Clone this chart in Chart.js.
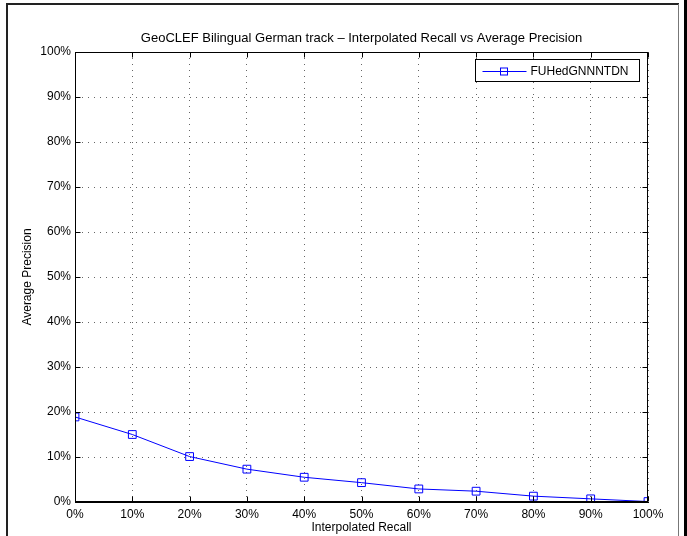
<!DOCTYPE html>
<html>
<head>
<meta charset="utf-8">
<script src="https://cdn.jsdelivr.net/npm/chart.js@4.4.1/dist/chart.umd.min.js"></script>
<style>
  html, body { margin: 0; padding: 0; background: #fff; }
  #wrap { width: 687px; height: 536px; }
</style>
</head>
<body>
<div id="wrap"><canvas id="chart" width="687" height="536"></canvas></div>
<script>
// interpolated recall levels (%) and the run's average precision at each one
const recallLevels = [0, 10, 20, 30, 40, 50, 60, 70, 80, 90, 100];
const precision = [18.9, 15.0, 10.1, 7.3, 5.5, 4.3, 2.9, 2.4, 1.3, 0.7, 0.1];
const runName = 'FUHedGNNNTDN';
const chartTitle = 'GeoCLEF Bilingual German track \u2013 Interpolated Recall vs Average Precision';
const xTitle = 'Interpolated Recall';
const yTitle = 'Average Precision';

const FONT = '"Liberation Sans", Arial, Helvetica, sans-serif';
const BLUE = '#0000ff';

// matlab-ish frame: box on all four sides, inward ticks, title, legend, page edge
const matlabFrame = {
  id: 'matlabFrame',
  afterDraw(chart) {
    const ctx = chart.ctx;
    const a = chart.chartArea;
    const xs = chart.scales.x, ys = chart.scales.y;
    const L = Math.round(a.left) + 0.5, R = Math.round(a.right) - 0.5;
    const T = Math.round(a.top) + 0.5, B = Math.round(a.bottom) - 0.5;
    ctx.save();
    ctx.strokeStyle = '#000';
    ctx.lineWidth = 1;
    ctx.strokeRect(L, T, R - L, B - T);

    const tl = 5;
    ctx.beginPath();
    xs.ticks.forEach(t => {
      const x = Math.round(xs.getPixelForValue(t.value)) + 0.5;
      ctx.moveTo(x, B); ctx.lineTo(x, B - tl);
      ctx.moveTo(x, T); ctx.lineTo(x, T + tl);
    });
    ys.ticks.forEach(t => {
      const y = Math.round(ys.getPixelForValue(t.value)) + 0.5;
      ctx.moveTo(L, y); ctx.lineTo(L + tl, y);
      ctx.moveTo(R, y); ctx.lineTo(R - tl, y);
    });
    ctx.stroke();

    // title over the axes
    ctx.fillStyle = '#000';
    ctx.font = '13px ' + FONT;
    ctx.textAlign = 'center';
    ctx.textBaseline = 'middle';
    ctx.fillText(chartTitle, (a.left + a.right) / 2, 38);

    // legend box in the upper right corner
    ctx.font = '12px ' + FONT;
    const tw = ctx.measureText(runName).width;
    const bx1 = R - 8, bx0 = Math.round(bx1 - tw - 66) + 0.5;
    const by0 = T + 7, by1 = by0 + 22;
    ctx.fillStyle = '#fff';
    ctx.fillRect(bx0, by0, bx1 - bx0, by1 - by0);
    ctx.strokeRect(bx0, by0, bx1 - bx0, by1 - by0);
    const ly = Math.round((by0 + by1) / 2) + 0.5;
    ctx.strokeStyle = BLUE;
    ctx.beginPath();
    ctx.moveTo(bx0 + 7, ly); ctx.lineTo(bx0 + 51, ly);
    ctx.stroke();
    ctx.strokeRect(bx0 + 25, ly - 3.5, 7, 7);
    ctx.fillStyle = '#000';
    ctx.textAlign = 'left';
    ctx.fillText(runName, bx0 + 55, ly + 0.5);

    // page edge: left and top rules, thin right rule and dark right margin
    ctx.strokeStyle = '#222';
    ctx.lineWidth = 2;
    ctx.beginPath();
    ctx.moveTo(7, 536); ctx.lineTo(7, 4); ctx.lineTo(679, 4);
    ctx.stroke();
    ctx.strokeStyle = '#777';
    ctx.lineWidth = 1;
    ctx.beginPath();
    ctx.moveTo(678.5, 4); ctx.lineTo(678.5, 536);
    ctx.stroke();
    ctx.fillStyle = '#000';
    ctx.fillRect(684, 0, 3, 536);
    ctx.restore();
  }
};

new Chart(document.getElementById('chart'), {
  type: 'line',
  data: {
    datasets: [{
      label: runName,
      data: recallLevels.map((r, i) => ({ x: r, y: precision[i] })),
      borderColor: BLUE,
      borderWidth: 1,
      backgroundColor: 'rgba(0,0,0,0)',
      pointStyle: 'rect',
      pointRadius: 5.5,
      pointBorderWidth: 1,
      pointBorderColor: BLUE,
      pointBackgroundColor: 'rgba(0,0,0,0)',
      tension: 0,
      fill: false
    }]
  },
  options: {
    responsive: false,
    animation: false,
    devicePixelRatio: 1,
    layout: { padding: { top: 52, right: 39, bottom: 0, left: 0 } },
    plugins: {
      legend: { display: false },
      title: { display: false },
      tooltip: { enabled: false }
    },
    scales: {
      x: {
        type: 'linear',
        min: 0,
        max: 100,
        afterFit(scale) { scale.height = 34; },
        ticks: {
          stepSize: 10,
          autoSkip: false,
          maxRotation: 0,
          padding: 5,
          color: '#000',
          font: { family: FONT, size: 12 },
          callback: v => v + '%'
        },
        grid: {
          color: '#666',
          lineWidth: 1,
          drawTicks: false
        },
        border: { display: true, color: '#000', dash: [1, 5] },
        title: {
          display: true,
          text: xTitle,
          color: '#000',
          font: { family: FONT, size: 12 },
          padding: { top: 0, bottom: 1 }
        }
      },
      y: {
        type: 'linear',
        min: 0,
        max: 100,
        afterFit(scale) { scale.width = 75; },
        ticks: {
          stepSize: 10,
          padding: 4,
          color: '#000',
          font: { family: FONT, size: 12 },
          callback: v => v + '%'
        },
        grid: {
          color: '#666',
          lineWidth: 1,
          drawTicks: false
        },
        border: { display: true, color: '#000', dash: [1, 5] },
        title: {
          display: true,
          text: yTitle,
          color: '#000',
          font: { family: FONT, size: 12 },
          padding: { top: 20, bottom: 0 }
        }
      }
    }
  },
  plugins: [matlabFrame]
});
</script>
</body>
</html>
